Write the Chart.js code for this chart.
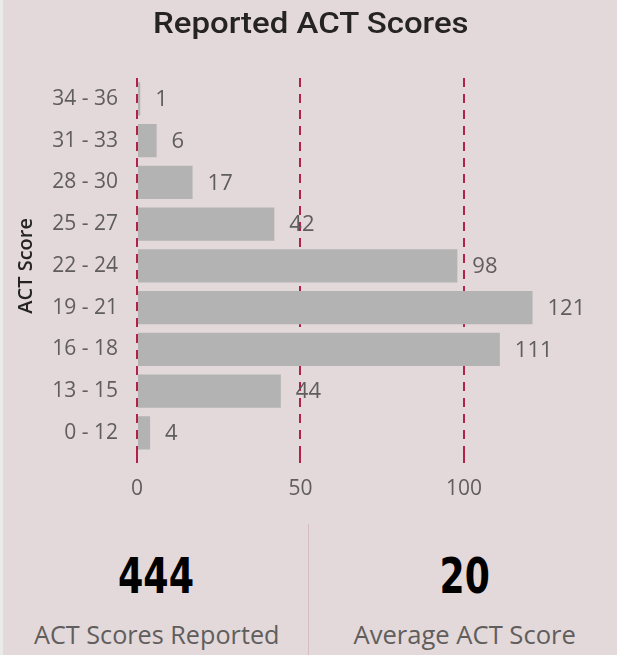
<!DOCTYPE html>
<html>
<head>
<meta charset="utf-8">
<script src="https://cdn.jsdelivr.net/npm/chart.js@4.4.1/dist/chart.umd.min.js"></script>
<style>
  html, body { margin: 0; padding: 0; background: #e9eaea; }
  #panel { position: absolute; left: 3px; top: 0; width: 614px; height: 655px; background: #e3d8da; }
  #wrap { position: absolute; left: 0; top: 0; width: 617px; height: 515px; }
  canvas { display: block; }
  .fit { position: absolute; white-space: nowrap; transform-origin: center center; }
  #title { font-family: Roboto, "DejaVu Sans Condensed", sans-serif; font-weight: 500; font-size: 29px; color: #252423; line-height: 1; }
  .num { font-family: "DejaVu Sans Condensed", "DejaVu Sans", sans-serif; font-weight: bold; font-size: 49px; color: #000; line-height: 1; }
  .lbl { font-family: "Open Sans", sans-serif; font-size: 25px; color: #605e5c; line-height: 1; }
  #divider { position: absolute; left: 308px; top: 524px; width: 1px; height: 131px; background: #d4bcc1; }
</style>
</head>
<body>
<div id="panel"></div>
<div id="wrap"><canvas id="c" width="617" height="515"></canvas></div>
<div id="divider"></div>
<div class="fit" id="title"></div>
<div class="fit num" id="total"></div>
<div class="fit lbl" id="totalLbl"></div>
<div class="fit num" id="avg"></div>
<div class="fit lbl" id="avgLbl"></div>
<script>
const chartTitle = "Reported ACT Scores";
const axisTitle = "ACT Score";
const categories = ["34 - 36", "31 - 33", "28 - 30", "25 - 27", "22 - 24", "19 - 21", "16 - 18", "13 - 15", "0 - 12"];
const counts = [1, 6, 17, 42, 98, 121, 111, 44, 4];
const xTicks = [0, 50, 100];
const averageScore = 20;
const totalLabel = "ACT Scores Reported";
const averageLabel = "Average ACT Score";

// place a text element centred at (cx, cy) and squeeze it horizontally to a target width
function place(id, text, cx, cy, targetW) {
  const el = document.getElementById(id);
  el.textContent = text;
  const w = el.offsetWidth, h = el.offsetHeight;
  el.style.left = (cx - w / 2) + 'px';
  el.style.top = (cy - h / 2) + 'px';
  if (targetW) el.style.transform = 'scaleX(' + (targetW / w) + ')';
}
place('title', chartTitle, 311, 23, 316);
place('total', String(counts.reduce((a, b) => a + b, 0)), 156, 576, 76);
place('avg', String(averageScore), 464, 576, 50);
place('totalLbl', totalLabel, 156, 634, 245);
place('avgLbl', averageLabel, 464, 634, 222);

const dataLabels = {
  id: 'dataLabels',
  afterDatasetsDraw(chart) {
    const ctx = chart.ctx;
    const meta = chart.getDatasetMeta(0);
    ctx.save();
    ctx.font = '22px "Open Sans", sans-serif';
    ctx.fillStyle = '#605e5c';
    ctx.textAlign = 'left';
    ctx.textBaseline = 'middle';
    meta.data.forEach((el, i) => {
      ctx.fillText(String(counts[i]), el.x + 15, el.y + 1);
    });
    ctx.restore();
  }
};

new Chart(document.getElementById('c'), {
  type: 'bar',
  data: {
    labels: categories,
    datasets: [{
      data: counts,
      backgroundColor: '#b3b3b3',
      barPercentage: 0.8,
      categoryPercentage: 1.0
    }]
  },
  options: {
    indexAxis: 'y',
    responsive: false,
    animation: false,
    layout: { padding: { left: 3, right: 6, top: 78, bottom: 3 } },
    plugins: {
      legend: { display: false },
      tooltip: { enabled: false },
      title: { display: false }
    },
    scales: {
      x: {
        min: 0,
        max: 145,
        afterBuildTicks(scale) { scale.ticks = xTicks.map(v => ({ value: v })); },
        grid: {
          color: '#b3204a',
          lineWidth: 2,
          tickLength: 13,
          tickColor: '#b3204a',
          tickWidth: 2,
          tickBorderDash: [9, 7]
        },
        border: { display: false, dash: [9, 7] },
        ticks: {
          color: '#605e5c',
          font: { family: '"Open Sans", sans-serif', size: 21 },
          padding: 10
        }
      },
      y: {
        afterFit(scale) { scale.width = 134; },
        grid: { display: false, drawTicks: false },
        border: { display: false },
        ticks: {
          color: '#605e5c',
          font: { family: '"Open Sans", sans-serif', size: 21 },
          padding: 19
        },
        title: {
          display: true,
          text: axisTitle,
          color: '#252423',
          font: { family: '"Open Sans", sans-serif', size: 20, weight: '600' },
          padding: { top: 11, bottom: 0 }
        }
      }
    }
  },
  plugins: [dataLabels]
});
</script>
</body>
</html>
